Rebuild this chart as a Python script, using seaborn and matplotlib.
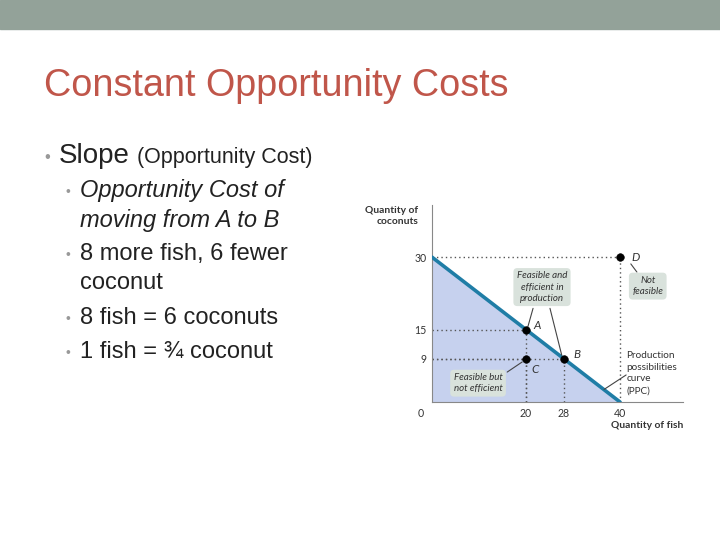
import matplotlib
matplotlib.use("Agg")
import matplotlib.pyplot as plt
import seaborn as sns
import pandas as pd
from matplotlib.patches import Rectangle

# data
ppc_fish = [0, 40]
ppc_coconuts = [30, 0]
point_names = ["A", "B", "C", "D"]
point_fish = [20, 28, 20, 40]
point_coconuts = [15, 9, 9, 30]
x_ticks = [20, 28, 40]
y_ticks = [9, 15, 30]

sns.set_style("white")
plt.rcParams["font.family"] = ["Liberation Sans", "DejaVu Sans"]

W, H = 720, 540
fig = plt.figure(figsize=(7.2, 5.4), dpi=100)


def px(x, y):
    return x / W, 1 - y / H


# top banner
fig.patches.append(Rectangle((0, 1 - 29 / H), 1, 29 / H, transform=fig.transFigure,
                             color="#93A299", zorder=0))

# title
fig.text(*px(44, 96), "Constant Opportunity Costs", fontsize=27.2, color="#C0564A",
         va="baseline")

# bullets
dark = "#222222"
fig.text(*px(44, 162), "•", fontsize=12, color="#999999", va="baseline")
fig.text(*px(59, 163), "Slope", fontsize=20, color=dark, va="baseline")
fig.text(*px(137, 163), "(Opportunity Cost)", fontsize=15.5, color=dark, va="baseline")

sub = [
    (197, "Opportunity Cost of", True, True),
    (227, "moving from A to B", False, True),
    (260, "8 more fish, 6 fewer", True, False),
    (289, "coconut", False, False),
    (324, "8 fish = 6 coconuts", True, False),
    (358, "1 fish = ¾ coconut", True, False),
]
for y, txt, bullet, ital in sub:
    if bullet:
        fig.text(*px(66, y - 1), "•", fontsize=10, color="#999999", va="baseline")
    fig.text(*px(80, y), txt, fontsize=17, color=dark, va="baseline",
             style="italic" if ital else "normal")

# chart
ax = fig.add_axes([432 / W, 1 - 402 / H, (683 - 432) / W, (402 - 205) / H])
ax.set_xlim(0, 53.4)
ax.set_ylim(0, 40.8)

ax.fill_between(ppc_fish, ppc_coconuts, 0, color="#C6D1EE", zorder=1)
ppc = pd.DataFrame({"fish": ppc_fish, "coconuts": ppc_coconuts})
sns.lineplot(data=ppc, x="fish", y="coconuts", ax=ax, color="#1F7DA6", lw=2.6, zorder=3)

dot = dict(color="#555555", ls=(0, (1, 2.2)), lw=1, zorder=2)
for fx, cy in zip(point_fish, point_coconuts):
    ax.plot([0, fx], [cy, cy], **dot)
    ax.plot([fx, fx], [0, cy], **dot)

pts = pd.DataFrame({"fish": point_fish, "coconuts": point_coconuts, "name": point_names})
sns.scatterplot(data=pts, x="fish", y="coconuts", ax=ax, color="black", s=30,
                edgecolor="black", zorder=4, legend=False)

chart_font = ["Lato", "DejaVu Sans"]
label_pos = {"A": (21.5, 15.8), "B": (30.0, 9.8), "C": (21.2, 6.8), "D": (42.4, 30)}
for n in point_names:
    lx, ly = label_pos[n]
    ax.text(lx, ly, n, fontsize=8.5, style="italic", color="#333333", va="center",
            family=chart_font)

box = dict(boxstyle="round,pad=0.35,rounding_size=0.4", fc="#D9E2DC", ec="none")
note_font = dict(fontsize=7, style="italic", color="#333333", ha="center",
                 va="center", family=chart_font, linespacing=1.3, zorder=5)
ax.text(23.4, 23.8, "Feasible and\nefficient in\nproduction", bbox=box, **note_font)
ax.text(45.9, 24.0, "Not\nfeasible", bbox=box, **note_font)
ax.text(9.8, 3.9, "Feasible but\nnot efficient", bbox=box, **note_font)
ax.text(41.4, 10.6, "Production\npossibilities\ncurve\n(PPC)", fontsize=7.2,
        color="#333333", ha="left", va="top", family=chart_font, linespacing=1.4)

lead = dict(color="#444444", lw=0.8, zorder=3)
ax.plot([21.5, 20.4], [19.4, 15.6], **lead)
ax.plot([25.1, 27.6], [19.4, 9.7], **lead)
ax.plot([42.3, 43.6], [28.6, 26.9], **lead)
ax.plot([16.0, 19.2], [6.2, 8.3], **lead)
ax.plot([41.3, 36.6], [5.6, 2.6], **lead)

ax.set_xticks([0] + x_ticks)
ax.set_yticks(y_ticks)
ax.set_xticklabels(["", "20", "28", "40"])
ax.tick_params(length=0, labelsize=7.6, colors="#333333", pad=4)
for t in ax.get_xticklabels() + ax.get_yticklabels():
    t.set_family(chart_font)
ax.text(-2.4, -1.3, "0", fontsize=7.6, color="#333333", ha="center", va="top",
        family=chart_font)
ax.set_xlabel("")
ax.set_ylabel("")
for side in ["top", "right"]:
    ax.spines[side].set_visible(False)
for side in ["left", "bottom"]:
    ax.spines[side].set_color("#888888")
    ax.spines[side].set_linewidth(0.8)

fig.text(*px(418, 224), "Quantity of\ncoconuts", fontsize=7.4, weight="bold",
         color="#333333", ha="right", va="baseline", family=chart_font,
         linespacing=1.25)
fig.text(*px(683, 428), "Quantity of fish", fontsize=7.4, weight="bold",
         color="#333333", ha="right", va="baseline", family=chart_font)

fig.savefig("out.png", dpi=100)
